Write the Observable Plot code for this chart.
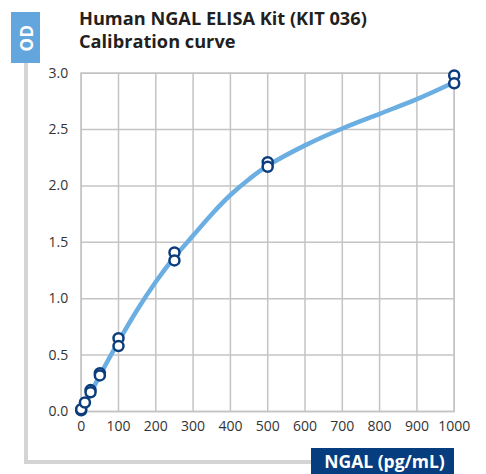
<!DOCTYPE html>
<html>
<head>
<meta charset="utf-8">
<script src="https://cdn.jsdelivr.net/npm/d3@7"></script>
<script src="https://cdn.jsdelivr.net/npm/@observablehq/plot@0.6"></script>
<style>
  html, body { margin: 0; padding: 0; background: #fff; }
  #wrap { position: relative; width: 486px; height: 474px; overflow: hidden; font-family: "Open Sans", sans-serif; }
  #chart { position: absolute; left: 0; top: 0; }
  .deco { position: absolute; }
  #od { left: 11px; top: 12px; width: 29px; height: 51px; background: #62a6dd; }
  #od span { position: absolute; left: 50%; top: 50%; transform: translate(-50%, -50%) rotate(-90deg); color: #fff; font-weight: 700; font-size: 17px; letter-spacing: 0.5px; }
  #vline { left: 24px; top: 63px; width: 4px; height: 401px; background: #d4d4d4; }
  #hline { left: 24px; top: 460px; width: 290px; height: 4px; background: #d4d4d4; }
  #unit { left: 311px; top: 448px; width: 143px; height: 26px; background: #063d7e; color: #fff; font-weight: 700; font-size: 17.5px; line-height: 26px; text-align: center; white-space: nowrap; padding-left: 4px; box-sizing: border-box; }
  #title { left: 79px; top: 7px; color: #231f20; font-weight: 700; font-size: 18.2px; line-height: 22.6px; white-space: nowrap; }
</style>
</head>
<body>
<div id="wrap">
  <div id="chart"></div>
  <div class="deco" id="od"><span>OD</span></div>
  <div class="deco" id="vline"></div>
  <div class="deco" id="hline"></div>
  <div class="deco" id="title">Human NGAL ELISA Kit (KIT 036)<br>Calibration curve</div>
  <div class="deco" id="unit">NGAL (pg/mL)</div>
</div>
<script>
// Measured calibrator points (duplicates)
const pointConc = [0, 0, 10, 25, 25, 50, 50, 100, 100, 250, 250, 500, 500, 1000, 1000];
const pointOD   = [0.01, 0.02, 0.08, 0.19, 0.17, 0.34, 0.32, 0.65, 0.58, 1.41, 1.34, 2.21, 2.17, 2.98, 2.91];

// Fitted curve
const curveConc = [0, 25, 50, 100, 150, 200, 250, 300, 350, 400, 450, 500, 600, 700, 800, 900, 1000];
const curveOD   = [0.0, 0.16, 0.32, 0.62, 0.90, 1.15, 1.37, 1.56, 1.75, 1.92, 2.06, 2.18, 2.36, 2.51, 2.64, 2.77, 2.92];

const xTicks = [0, 100, 200, 300, 400, 500, 600, 700, 800, 900, 1000];
const yTicks = [0, 0.5, 1.0, 1.5, 2.0, 2.5, 3.0];

const points = pointConc.map((c, i) => ({conc: c, od: pointOD[i]}));
const curve = curveConc.map((c, i) => ({conc: c, od: curveOD[i]}));

const chart = Plot.plot({
  width: 486,
  height: 474,
  marginLeft: 80.7,
  marginRight: 32.3,
  marginTop: 72.7,
  marginBottom: 63,
  style: {fontFamily: "'Open Sans', sans-serif", fontSize: "14px", color: "#333", background: "transparent"},
  x: {domain: [0, 1000], label: null},
  y: {domain: [0, 3], label: null},
  marks: [
    Plot.gridX(xTicks, {stroke: "#c4c4c4", strokeOpacity: 1, strokeWidth: 1.5}),
    Plot.gridY(yTicks, {stroke: "#c4c4c4", strokeOpacity: 1, strokeWidth: 1.5}),
    Plot.frame({stroke: "#c4c4c4", strokeWidth: 1.5}),
    Plot.line(curve, {x: "conc", y: "od", curve: "catmull-rom", stroke: "#6aaee2", strokeWidth: 4.5}),
    Plot.dot(points, {x: "conc", y: "od", r: 5, fill: "#fff", stroke: "#0b3d7c", strokeWidth: 2.5}),
    Plot.axisX({ticks: xTicks, tickSize: 0, tickPadding: 10, tickFormat: d3.format("d"), label: null}),
    Plot.axisY({ticks: yTicks, tickSize: 0, tickPadding: 13, tickFormat: d3.format(".1f"), label: null})
  ]
});
document.getElementById("chart").appendChild(chart);
</script>
</body>
</html>
